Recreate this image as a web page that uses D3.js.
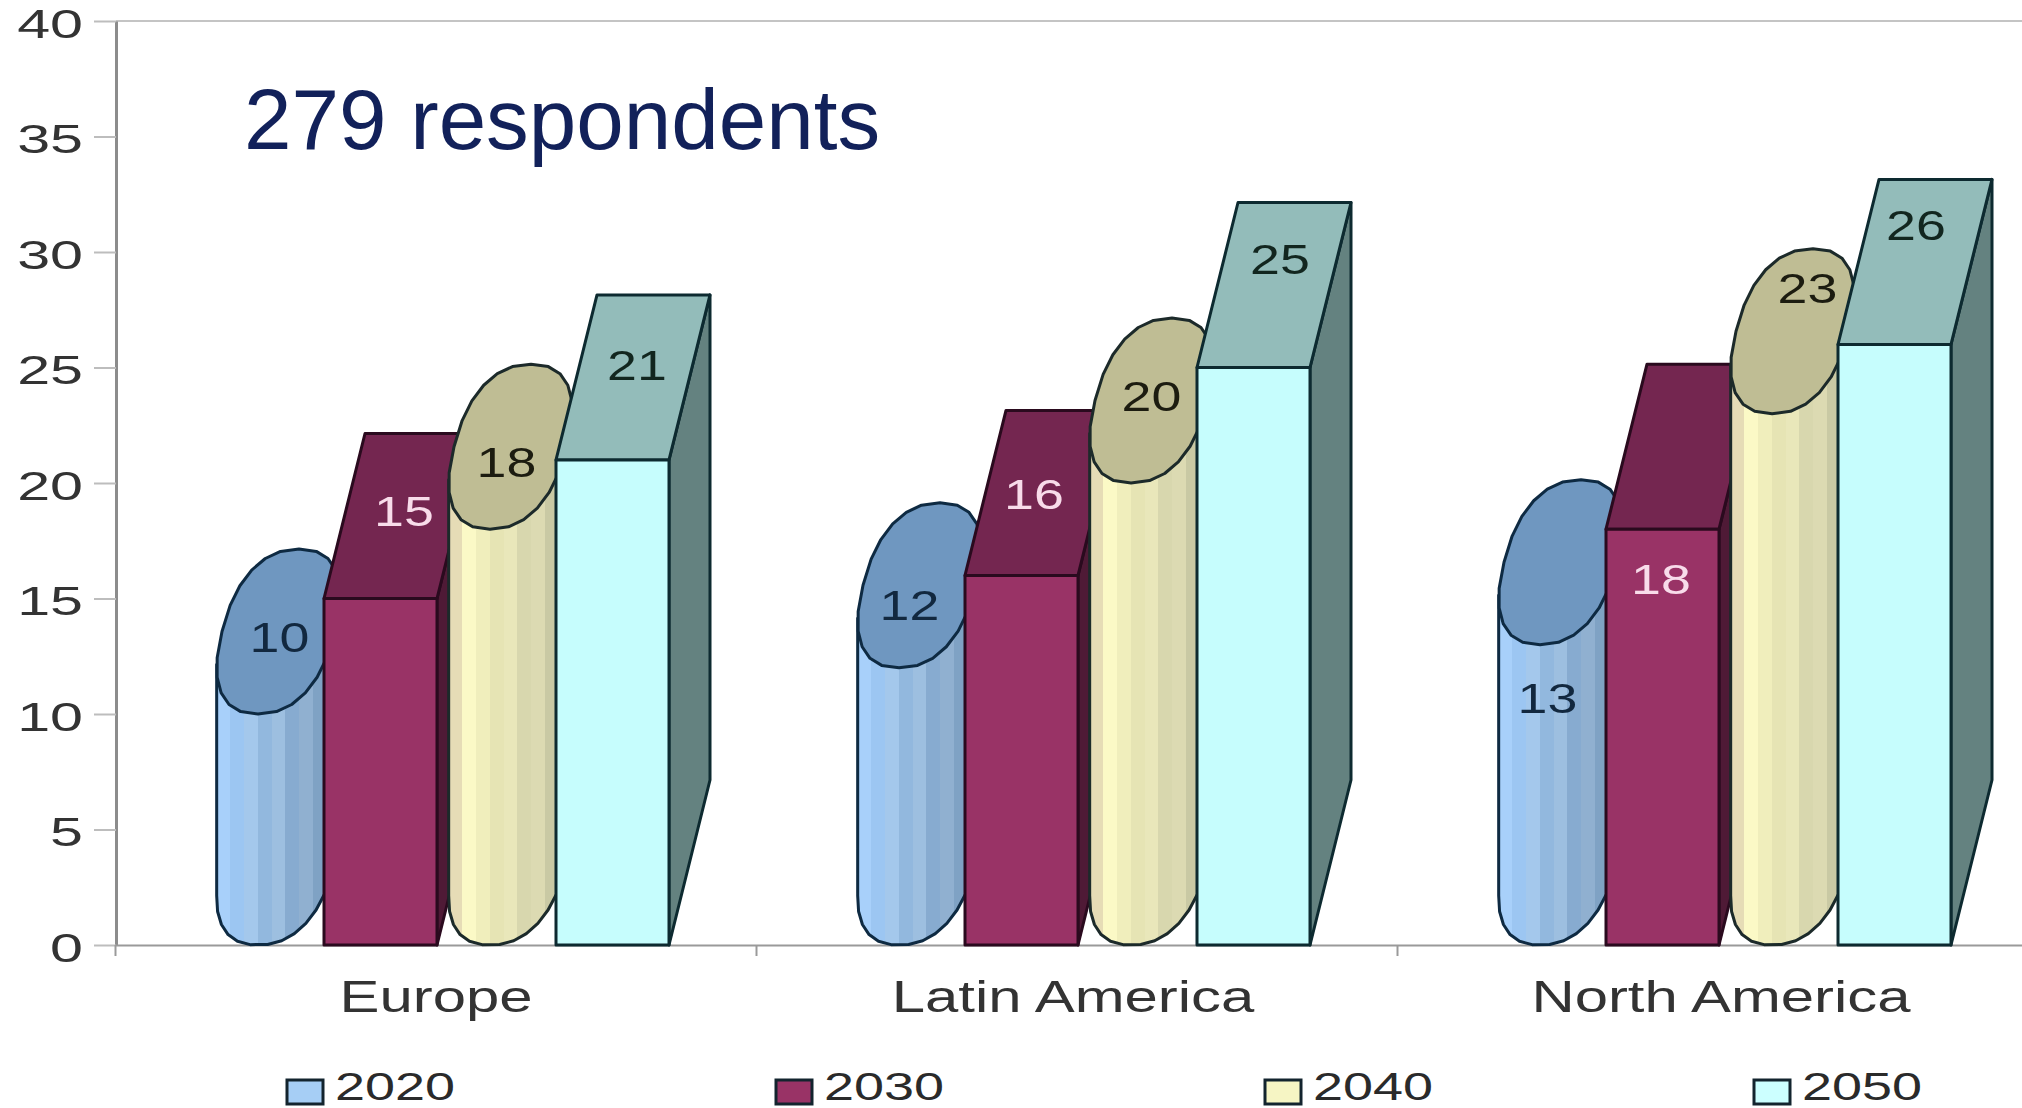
<!DOCTYPE html>
<html>
<head>
<meta charset="utf-8">
<script src="https://cdn.jsdelivr.net/npm/d3@7/dist/d3.min.js"></script>
<style>
  html, body { margin: 0; background: #fff; }
  svg { display: block; font-family: "Liberation Sans", Arial, sans-serif; }
</style>
</head>
<body>
<svg id="chart" width="2022" height="1108"></svg>
<script>
// Regions on the category axis and forecast years as series
const regions = ["Europe", "Latin America", "North America"];
const years = ["2020", "2030", "2040", "2050"];
const values2020 = [10, 12, 13];
const values2030 = [15, 16, 18];
const values2040 = [18, 20, 23];
const values2050 = [21, 25, 26];
const seriesValues = [values2020, values2030, values2040, values2050];
const yTicks = [0, 5, 10, 15, 20, 25, 30, 35, 40];
const headline = "279 respondents";

// Per-year shape and colours: cylinders alternate with boxes
const seriesStyle = [
  { shape: "cylinder", top: "#6f97c0", stroke: "#0e2a42", label: "#12283f", swatch: "#a6cef5",
    bands: ["#a8d0fa", "#9cc6f2", "#a4c8ec", "#92b8de", "#9dbfe0", "#87abd0", "#90b0d0", "#7fa2c4", "#7a9cc0"] },
  { shape: "box", front: "#993366", top: "#742650", side: "#4f1a36", stroke: "#2a0a1e", label: "#f8dcea", swatch: "#993366" },
  { shape: "cylinder", top: "#bfbd94", stroke: "#1c2a2a", label: "#1c1c10", swatch: "#f6f5c4",
    bands: ["#e6dcb6", "#fbf9c6", "#f0eebc", "#e6e4b4", "#e9e7ba", "#d8d7ae", "#dcdab2", "#c9c9a4", "#c2c3a2"] },
  { shape: "box", front: "#c6fdfd", top: "#93bcba", side: "#648280", stroke: "#0d2a30", label: "#12261f", swatch: "#ccffff" }
];

// Fine position adjustments for the value labels, per region then year
const labelShiftX = [[1, 3, -4, 4], [-10, -8, 0, 6], [-13, -22, 15, 1]];
const labelShiftY = [[5, -5, 15, -13], [19, 1, -5, -26], [135, 132, -44, -37]];
const regionNameShift = [0, -4, 3];

const svg = d3.select("#chart");
const baseY = 945, topY = 21, axisX = 116;
const barWidth = 113, depthX = 41, depthY = -165;

const x = d3.scaleBand().domain(regions).range([115.5, 2038.5]);
const inner = d3.scaleBand().domain(years).range([-228, 236]);
const y = d3.scaleLinear().domain([0, 40]).range([baseY, topY]);

// Stepped gradients give the cylinders their fluted shading
const defs = svg.append("defs");
seriesStyle.forEach((s, i) => {
  if (!s.bands) return;
  const g = defs.append("linearGradient").attr("id", "flute" + i)
    .attr("x1", 0).attr("x2", 1).attr("y1", 0).attr("y2", 0);
  s.bands.forEach((c, j) => {
    g.append("stop").attr("offset", j / s.bands.length).attr("stop-color", c);
    g.append("stop").attr("offset", (j + 1) / s.bands.length).attr("stop-color", c);
  });
});

// Plot frame line along the top
svg.append("line").attr("x1", axisX).attr("x2", 2022).attr("y1", topY).attr("y2", topY)
  .attr("stroke", "#c4c4c4").attr("stroke-width", 2);

// Value axis
const yAxis = svg.append("g").attr("transform", `translate(${axisX},0)`)
  .call(d3.axisLeft(y).tickValues(yTicks).tickSize(22).tickSizeOuter(0));
yAxis.select(".domain").attr("stroke", "#8c8c8c").attr("stroke-width", 3);
yAxis.selectAll(".tick line").attr("stroke", "#bdbdbd").attr("stroke-width", 2);
yAxis.selectAll(".tick text")
  .attr("x", 0).attr("dy", "0.4em")
  .attr("transform", "translate(-33,0) scale(1.48,1)")
  .attr("text-anchor", "end")
  .attr("font-family", "Liberation Sans").attr("font-size", 40).attr("fill", "#333");

// Category axis with separators between regions and centred names
const xAxis = svg.append("g").attr("transform", `translate(0,${baseY})`)
  .call(d3.axisBottom(x).tickSize(0).tickSizeOuter(0));
xAxis.select(".domain").attr("stroke", "#9a9a9a").attr("stroke-width", 2);
xAxis.selectAll(".tick text")
  .attr("y", 0).attr("dy", 0)
  .attr("transform", (d, i) => `translate(${regionNameShift[i]},67) scale(1.36,1)`)
  .attr("text-anchor", "middle")
  .attr("font-family", "Liberation Sans").attr("font-size", 44).attr("fill", "#333");
svg.selectAll(".separator").data(regions).join("line").attr("class", "separator")
  .attr("x1", d => x(d)).attr("x2", d => x(d))
  .attr("y1", baseY).attr("y2", baseY + 11)
  .attr("stroke", "#9a9a9a").attr("stroke-width", 2);

// Slanted section of a cylinder, inscribed in the box's top face; the exponent plumps the ellipse
const halfW = barWidth / 2, halfDX = depthX / 2, halfDY = depthY / 2;
const plump = v => Math.sign(v) * Math.pow(Math.abs(v), 0.85);
const ringPoint = (cx, cy, t) => [
  cx + halfW * plump(Math.cos(t)) + halfDX * plump(Math.sin(t)),
  cy + halfDY * plump(Math.sin(t))
];
const leftT = Math.PI + Math.atan2(halfDX, halfW);   // angle of the leftmost rim point
const polyline = d3.line();

function ring(cx, cy) {
  return d3.range(24).map(i => ringPoint(cx, cy, i / 24 * 2 * Math.PI));
}

function drawCylinder(g, cx, top, s, i) {
  const bottomCy = baseY + halfDY;
  const topCy = top + halfDY;
  // Body: rim of the base from the leftmost point under to the rightmost, then up to the top section
  const rim = d3.range(0, 15).map(k => ringPoint(cx, bottomCy, leftT + k / 14 * Math.PI));
  const left = ringPoint(cx, topCy, leftT);
  const right = ringPoint(cx, topCy, leftT + Math.PI);
  g.append("path")
    .attr("d", polyline([left, ...rim, right]) + "Z")
    .attr("fill", `url(#flute${i})`)
    .attr("stroke", s.stroke).attr("stroke-width", 3).attr("stroke-linejoin", "round");
  g.append("path")
    .attr("d", polyline(ring(cx, topCy)) + "Z")
    .attr("fill", s.top)
    .attr("stroke", s.stroke).attr("stroke-width", 3).attr("stroke-linejoin", "round");
}

function drawBox(g, left, top, s) {
  const right = left + barWidth;
  const common = sel => sel.attr("stroke", s.stroke).attr("stroke-width", 3).attr("stroke-linejoin", "round");
  common(g.append("path")
    .attr("d", polyline([[right, top], [right + depthX, top + depthY], [right + depthX, baseY + depthY], [right, baseY]]) + "Z")
    .attr("fill", s.side));
  common(g.append("path")
    .attr("d", polyline([[left, top], [left + depthX, top + depthY], [right + depthX, top + depthY], [right, top]]) + "Z")
    .attr("fill", s.top));
  common(g.append("rect")
    .attr("x", left).attr("y", top)
    .attr("width", barWidth).attr("height", baseY - top)
    .attr("fill", s.front));
}

// Marks, painted back to front within each region so later years overlap earlier ones
regions.forEach((region, r) => {
  const centre = x(region) + x.bandwidth() / 2;
  const marks = svg.append("g").attr("class", "region");
  const labels = [];
  years.forEach((year, i) => {
    const v = seriesValues[i][r];
    const s = seriesStyle[i];
    const slot = centre + inner(year);
    const top = y(v);
    let ax;
    if (s.shape === "cylinder") {
      const cx = slot + halfW + 14;
      drawCylinder(marks.append("g"), cx, top, s, i);
      ax = cx;
    } else {
      drawBox(marks.append("g"), slot, top, s);
      ax = slot + halfW + halfDX;
    }
    labels.push({
      text: v, color: s.label,
      x: ax + labelShiftX[r][i],
      y: top + halfDY + labelShiftY[r][i]
    });
  });
  marks.selectAll("text").data(labels).join("text")
    .attr("transform", d => `translate(${d.x},${d.y}) scale(1.25,1)`)
    .attr("dy", "0.36em").attr("text-anchor", "middle")
    .attr("font-size", 43).attr("fill", d => d.color)
    .text(d => d.text);
});

// Headline inside the plot area
svg.append("text").attr("x", 244).attr("y", 149)
  .attr("font-size", 85.4).attr("fill", "#12215a").text(headline);

// Legend along the bottom edge
const legendX = d3.scaleBand().domain(years).range([287, 2243]);
const legend = svg.selectAll(".legend").data(years).join("g").attr("class", "legend")
  .attr("transform", d => `translate(${legendX(d)},0)`);
legend.append("rect").attr("x", 0).attr("y", 1080).attr("width", 36).attr("height", 24)
  .attr("fill", (d, i) => seriesStyle[i].swatch)
  .attr("stroke", "#13242e").attr("stroke-width", 3);
legend.append("text")
  .attr("transform", "translate(48,1099.5) scale(1.42,1)")
  .attr("font-size", 38).attr("fill", "#2a2a2a")
  .text(d => d);
</script>
</body>
</html>
